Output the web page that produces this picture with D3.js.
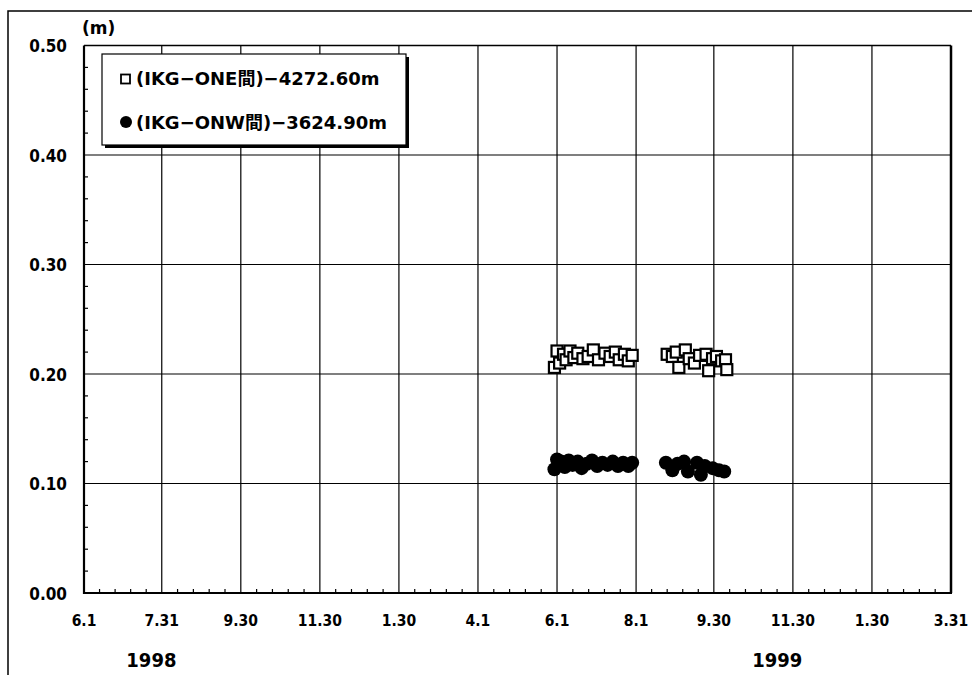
<!DOCTYPE html>
<html><head><meta charset="utf-8">
<script src="https://cdn.jsdelivr.net/npm/d3@7"></script>
<style>body{margin:0;background:#fff}svg{display:block}</style>
</head><body><svg id="c" width="972" height="675"></svg>
<script>
// ---- data ----
const xTickDates = ["1998-06-01","1998-07-31","1998-09-30","1998-11-30","1999-01-30","1999-04-01","1999-06-01","1999-08-01","1999-09-30","1999-11-30","2000-01-30","2000-03-31"];
const xTickLabels = ["6.1","7.31","9.30","11.30","1.30","4.1","6.1","8.1","9.30","11.30","1.30","3.31"];
const yTicks = [0, 0.1, 0.2, 0.3, 0.4, 0.5];
const yTickLabels = ["0.00","0.10","0.20","0.30","0.40","0.50"];
const yearLabels = ["1998", "1999"];
const yearLabelDates = ["1998-07-23", "1999-11-18"];
const yUnit = "(m)";
const seriesNames = ["(IKG−ONE間)−4272.60m", "(IKG−ONW間)−3624.90m"];

const oneDates = ["1999-05-30","1999-06-01","1999-06-03","1999-06-06","1999-06-08","1999-06-11","1999-06-14","1999-06-17","1999-06-21","1999-06-25","1999-06-29","1999-07-03","1999-07-08","1999-07-12","1999-07-16","1999-07-19","1999-07-23","1999-07-26","1999-07-29",
  "1999-08-25","1999-08-29","1999-09-01","1999-09-03","1999-09-08","1999-09-11","1999-09-15","1999-09-19","1999-09-24","1999-09-26","1999-09-29","1999-10-02","1999-10-06","1999-10-09","1999-10-10"];
const oneValues = [0.206,0.221,0.210,0.218,0.213,0.221,0.215,0.219,0.214,0.216,0.222,0.213,0.219,0.216,0.220,0.213,0.218,0.212,0.217,
  0.218,0.216,0.220,0.206,0.222,0.214,0.210,0.217,0.218,0.203,0.214,0.216,0.212,0.213,0.204];

const onwDates = ["1999-05-30","1999-06-01","1999-06-04","1999-06-07","1999-06-10","1999-06-13","1999-06-17","1999-06-20","1999-06-24","1999-06-28","1999-07-02","1999-07-06","1999-07-10","1999-07-14","1999-07-18","1999-07-22","1999-07-26","1999-07-29",
  "1999-08-24","1999-08-29","1999-09-02","1999-09-07","1999-09-10","1999-09-17","1999-09-20","1999-09-23","1999-09-29","1999-10-04","1999-10-08"];
const onwValues = [0.113,0.122,0.120,0.115,0.121,0.117,0.120,0.114,0.118,0.121,0.116,0.119,0.117,0.120,0.116,0.119,0.116,0.119,
  0.119,0.112,0.118,0.120,0.111,0.119,0.108,0.116,0.114,0.112,0.111];

// ---- drawing ----
const parse = d3.utcParse("%Y-%m-%d");
const svg = d3.select("#c");
const L = 84, R = 951, T = 45.5, B = 593;
const x = d3.scaleUtc().domain([parse(xTickDates[0]), parse(xTickDates[xTickDates.length-1])]).range([L, R]);
const y = d3.scaleLinear().domain([0, 0.5]).range([B, T]);

// outer frame
svg.append("path").attr("d", `M8,675 L8,11 L972,11`).attr("fill","none").attr("stroke","#000").attr("stroke-width",1.5);

// grid
const g = svg.append("g");
g.selectAll(".vg").data(xTickDates.slice(1,-1)).join("line")
  .attr("x1", d => x(parse(d))).attr("x2", d => x(parse(d)))
  .attr("y1", T).attr("y2", B).attr("stroke","#000").attr("stroke-width",1.2);
g.selectAll(".hg").data(yTicks.slice(1,-1)).join("line")
  .attr("x1", L).attr("x2", R).attr("y1", d => y(d)).attr("y2", d => y(d))
  .attr("stroke","#000").attr("stroke-width",1.2);

// minor ticks x
const minorX = [];
for (let i = 0; i < xTickDates.length - 1; i++) {
  const a = x(parse(xTickDates[i])), b = x(parse(xTickDates[i+1]));
  for (let k = 1; k < 5; k++) minorX.push(a + (b - a) * k / 5);
}
g.selectAll(".mx").data(minorX).join("line")
  .attr("x1", d => d).attr("x2", d => d).attr("y1", B).attr("y2", B - 4)
  .attr("stroke","#000").attr("stroke-width",1.2);
// minor ticks y
const minorY = d3.range(0.02, 0.5, 0.02).filter(v => Math.abs(v*10 - Math.round(v*10)) > 1e-6);
g.selectAll(".my").data(minorY).join("line")
  .attr("x1", L).attr("x2", L + 4).attr("y1", d => y(d)).attr("y2", d => y(d))
  .attr("stroke","#000").attr("stroke-width",1.2);

// plot frame
svg.append("line").attr("x1",L).attr("x2",R).attr("y1",T).attr("y2",T).attr("stroke","#000").attr("stroke-width",1.5);
svg.append("line").attr("x1",R).attr("x2",R).attr("y1",T).attr("y2",B).attr("stroke","#000").attr("stroke-width",2.5);
svg.append("line").attr("x1",L).attr("x2",L).attr("y1",T).attr("y2",B+1).attr("stroke","#000").attr("stroke-width",2.2);
svg.append("line").attr("x1",L-1).attr("x2",R+1).attr("y1",B).attr("y2",B).attr("stroke","#000").attr("stroke-width",2.2);

const fontC = "'DejaVu Sans Condensed','DejaVu Sans',sans-serif";
const fontL = "'DejaVu Sans','Noto Sans CJK JP',sans-serif";

// y labels
svg.selectAll(".yl").data(yTicks).join("text")
  .attr("x", 67).attr("y", d => y(d) + 6.5)
  .attr("text-anchor","end").attr("font-family", fontC).attr("font-weight","bold").attr("font-size",17)
  .text((d,i) => yTickLabels[i]);
svg.append("text").attr("x", 82).attr("y", 34).attr("font-family", fontL).attr("font-weight","bold").attr("font-size",17).text(yUnit);

// x labels
svg.selectAll(".xl").data(xTickDates).join("text")
  .attr("x", d => x(parse(d))).attr("y", 626)
  .attr("text-anchor","middle").attr("font-family", fontC).attr("font-weight","bold").attr("font-size",15.5)
  .text((d,i) => xTickLabels[i]);
svg.selectAll(".yr").data(yearLabelDates).join("text")
  .attr("x", d => x(parse(d))).attr("y", 667)
  .attr("text-anchor","middle").attr("font-family", fontC).attr("font-weight","bold").attr("font-size",20)
  .text((d,i) => yearLabels[i]);

// data
const onw = onwDates.map((d,i) => ({d: parse(d), v: onwValues[i]}));
const one = oneDates.map((d,i) => ({d: parse(d), v: oneValues[i]}));
svg.append("g").selectAll("circle").data(onw).join("circle")
  .attr("cx", d => x(d.d)).attr("cy", d => y(d.v)).attr("r", 7).attr("fill","#000");
const s = 11;
svg.append("g").selectAll("rect").data(one).join("rect")
  .attr("x", d => x(d.d) - s/2).attr("y", d => y(d.v) - s/2).attr("width", s).attr("height", s)
  .attr("fill","#fff").attr("stroke","#000").attr("stroke-width",2.2);

// legend
const lg = svg.append("g");
lg.append("rect").attr("x",105).attr("y",57).attr("width",304).attr("height",91).attr("fill","#000");
lg.append("rect").attr("x",102).attr("y",54).attr("width",304).attr("height",91).attr("fill","#fff").attr("stroke","#000").attr("stroke-width",1.2);
lg.append("rect").attr("x",121).attr("y",74.5).attr("width",9).attr("height",9).attr("fill","#fff").attr("stroke","#000").attr("stroke-width",1.8);
lg.append("circle").attr("cx",126).attr("cy",122).attr("r",6).attr("fill","#000");
lg.selectAll("text").data(seriesNames).join("text")
  .attr("x", 136).attr("y", (d,i) => 84.5 + i*44)
  .attr("font-family", fontL).attr("font-weight","bold").attr("font-size",18)
  .text(d => d);
</script></body></html>
